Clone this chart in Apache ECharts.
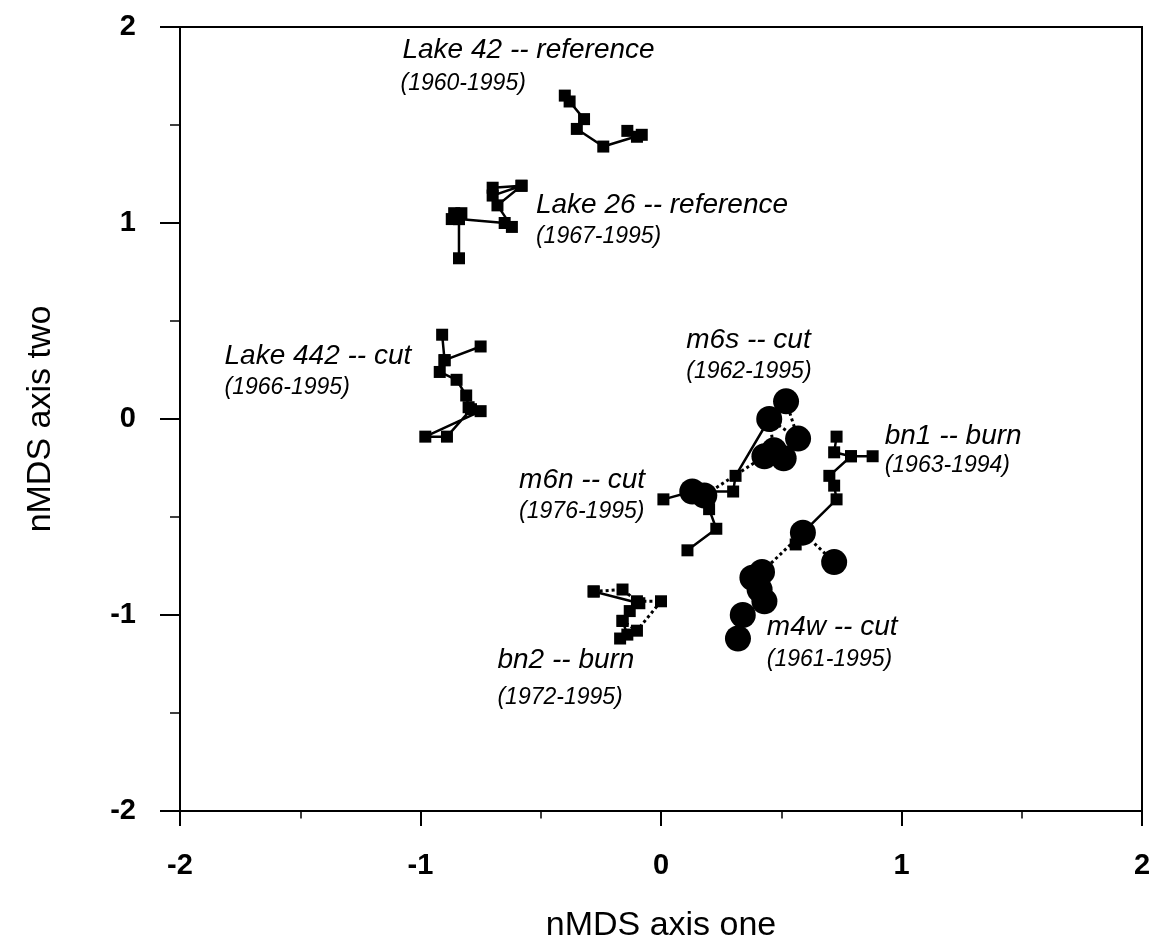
<!DOCTYPE html>
<html>
<head>
<meta charset="utf-8">
<script src="https://cdn.jsdelivr.net/npm/echarts@6/dist/echarts.min.js"></script>
<style>
  html, body { margin: 0; padding: 0; background: #fff; }
  #chart { width: 1156px; height: 948px; }
</style>
</head>
<body>
<div id="chart"></div>
<script>
// trajectories, [axis one, axis two]
const lake42 = [[-0.40,1.65],[-0.38,1.62],[-0.32,1.53],[-0.35,1.48],[-0.24,1.39],[-0.08,1.45],[-0.10,1.44],[-0.14,1.47]];
const lake26 = [[-0.84,0.82],[-0.84,1.02],[-0.87,1.02],[-0.83,1.05],[-0.86,1.05],[-0.84,1.02],[-0.65,1.00],[-0.62,0.98],[-0.68,1.09],[-0.58,1.19],[-0.70,1.14],[-0.70,1.18],[-0.58,1.19]];
const lake442 = [[-0.75,0.37],[-0.90,0.30],[-0.91,0.43],[-0.90,0.30],[-0.92,0.24],[-0.85,0.20],[-0.81,0.12],[-0.80,0.06],[-0.75,0.04],[-0.98,-0.09],[-0.89,-0.09],[-0.79,0.05]];
const m6n = [[0.11,-0.67],[0.23,-0.56],[0.20,-0.46],[0.18,-0.40],[0.13,-0.37],[0.01,-0.41],[0.13,-0.37],[0.30,-0.37],[0.31,-0.29],[0.45,0.00]];
const m6s = [[0.52,0.09],[0.57,-0.10],[0.45,0.00],[0.47,-0.16],[0.51,-0.20],[0.43,-0.19],[0.18,-0.39],[0.13,-0.37]];
const bn1 = [[0.73,-0.09],[0.72,-0.17],[0.79,-0.19],[0.88,-0.19],[0.79,-0.19],[0.70,-0.29],[0.72,-0.34],[0.73,-0.41],[0.59,-0.58],[0.56,-0.64]];
const m4w = [[0.72,-0.73],[0.59,-0.58],[0.42,-0.78],[0.38,-0.81],[0.41,-0.87],[0.43,-0.93],[0.34,-1.00],[0.32,-1.12]];
const bn2Solid = [[-0.28,-0.88],[-0.09,-0.94],[-0.13,-0.98],[-0.16,-1.03],[-0.14,-1.10],[-0.17,-1.12]];
const bn2Dotted = [[-0.28,-0.88],[-0.16,-0.87],[-0.10,-0.93],[0.00,-0.93],[-0.10,-1.08],[-0.16,-1.03]];

// site labels: anchor (left, middle) in data units
const siteNames = ['Lake 42 -- reference','Lake 26 -- reference','Lake 442 -- cut','m6s -- cut','bn1 -- burn','m6n -- cut','m4w -- cut','bn2 -- burn'];
const siteYears = ['(1960-1995)','(1967-1995)','(1966-1995)','(1962-1995)','(1963-1994)','(1976-1995)','(1961-1995)','(1972-1995)'];
const nameAt = [[-1.075,1.88],[-0.52,1.09],[-1.815,0.32],[0.105,0.40],[0.93,-0.09],[-0.59,-0.31],[0.44,-1.06],[-0.68,-1.23]];
const yearAt = [[-1.083,1.71],[-0.52,0.93],[-1.815,0.16],[0.105,0.24],[0.93,-0.24],[-0.59,-0.47],[0.44,-1.23],[-0.68,-1.42]];

const ticks = [-2, -1, 0, 1, 2];

const FONT = 'Liberation Sans, Arial, sans-serif';

function squares(name, data, dotted) {
    return {
        name: name, type: 'line', data: data,
        symbol: 'rect', symbolSize: 12,
        itemStyle: { color: '#000' },
        lineStyle: { color: '#000', width: dotted ? 3 : 2.5, type: dotted ? 'dotted' : 'solid' },
        animation: false, z: 3
    };
}
function circles(name, data) {
    return {
        name: name, type: 'line', data: data,
        symbol: 'circle', symbolSize: 26,
        itemStyle: { color: '#000' },
        lineStyle: { color: '#000', width: 3, type: 'dotted' },
        animation: false, z: 2
    };
}

function axisCommon(name, gap, tickLen) {
    return {
        type: 'value', min: -2, max: 2, interval: 1,
        name: name, nameLocation: 'middle', nameGap: gap,
        nameTextStyle: { fontFamily: FONT, fontSize: 34, color: '#000' },
        axisLine: { show: true, onZero: false, lineStyle: { color: '#000', width: 2 } },
        axisTick: { show: true, inside: false, length: tickLen, lineStyle: { color: '#000', width: 2 } },
        minorTick: { show: true, splitNumber: 2, length: tickLen / 2, lineStyle: { color: '#000', width: 1.5 } },
        splitLine: { show: false },
        axisLabel: {
            fontFamily: FONT, fontSize: 29, fontWeight: 'bold', color: '#000',
            formatter: v => ticks.indexOf(v) >= 0 ? String(v) : ''
        }
    };
}

const xAxis = axisCommon('nMDS axis one', 98, 15);
xAxis.axisLabel.margin = 40;
const yAxis = axisCommon('nMDS axis two', 122, 20);
yAxis.axisLabel.margin = 44;

const chart = echarts.init(document.getElementById('chart'));
chart.setOption({
    backgroundColor: '#fff',
    animation: false,
    grid: { left: 180, right: 14, top: 27, bottom: 135, show: true, borderColor: '#000', borderWidth: 2, backgroundColor: 'transparent' },
    xAxis: xAxis,
    yAxis: yAxis,
    series: [
        squares('Lake 42', lake42),
        squares('Lake 26', lake26),
        squares('Lake 442', lake442),
        circles('m6s', m6s),
        squares('m6n', m6n),
        squares('bn1', bn1),
        circles('m4w', m4w),
        squares('bn2', bn2Solid),
        squares('bn2 dotted', bn2Dotted, true)
    ]
});

// labels placed through the axes
const texts = [];
siteNames.forEach((t, i) => {
    const p = chart.convertToPixel({ gridIndex: 0 }, nameAt[i]);
    texts.push({ type: 'text', x: p[0], y: p[1], style: { text: t, font: 'italic 28px ' + FONT, fill: '#000', textVerticalAlign: 'middle' } });
    const q = chart.convertToPixel({ gridIndex: 0 }, yearAt[i]);
    texts.push({ type: 'text', x: q[0], y: q[1], style: { text: siteYears[i], font: 'italic 23px ' + FONT, fill: '#000', textVerticalAlign: 'middle' } });
});
chart.setOption({ graphic: texts });

window.addEventListener('resize', function () {
    chart.resize();
});
</script>
</body>
</html>
